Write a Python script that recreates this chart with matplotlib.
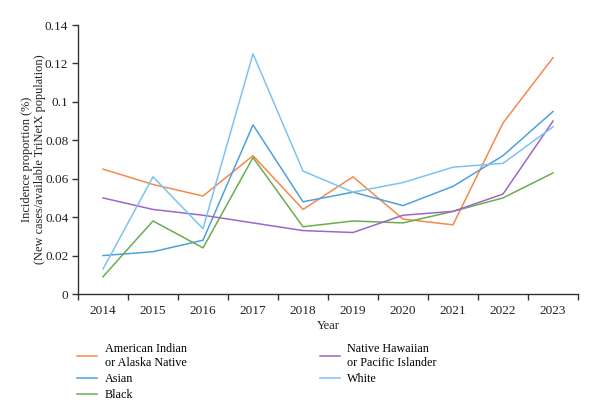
import numpy as np
from matplotlib import pyplot as plt
from matplotlib.lines import Line2D

years = ['2014', '2015', '2016', '2017', '2018', '2019', '2020', '2021', '2022', '2023']

american_indian = [0.065, 0.057, 0.051, 0.072, 0.044, 0.061, 0.039, 0.036, 0.089, 0.123]
asian = [0.020, 0.022, 0.028, 0.088, 0.048, 0.053, 0.046, 0.056, 0.072, 0.095]
black = [0.009, 0.038, 0.024, 0.071, 0.035, 0.038, 0.037, 0.043, 0.050, 0.063]
native_hawaiian = [0.050, 0.044, 0.041, 0.037, 0.033, 0.032, 0.041, 0.043, 0.052, 0.090]
white = [0.013, 0.061, 0.034, 0.125, 0.064, 0.053, 0.058, 0.066, 0.068, 0.087]

plt.rcParams['font.family'] = ['Liberation Serif', 'DejaVu Serif']

series = [
    ('American Indian\nor Alaska Native', american_indian, '#f5894a'),
    ('Asian', asian, '#4ea1dc'),
    ('Black', black, '#6aad4f'),
    ('Native Hawaiian\nor Pacific Islander', native_hawaiian, '#9a68c8'),
    ('White', white, '#7cc3ef'),
]

fig = plt.figure(figsize=(6.0, 4.19), dpi=100)
ax = fig.add_axes([78 / 600, 1 - 294 / 419, 500 / 600, 269 / 419])

x = np.arange(len(years))
for label, values, color in series:
    ax.plot(x, values, color=color, lw=1.1, label=label)

ax.set_xlim(-0.5, len(years) - 0.5)
ax.set_ylim(0, 0.14)
ax.set_yticks([0, 0.02, 0.04, 0.06, 0.08, 0.1, 0.12, 0.14])
ax.set_yticklabels(['0', '0.02', '0.04', '0.06', '0.08', '0.1', '0.12', '0.14'])
ax.set_xticks(x)
ax.set_xticklabels(years)
ax.set_xticks(np.arange(-0.5, len(years)), minor=True)
ax.tick_params(axis='x', which='major', length=0, pad=8, labelsize=9.5, colors='#222222')
ax.tick_params(axis='x', which='minor', length=4, width=1, color='#333333')
ax.tick_params(axis='y', length=4, width=1, color='#333333', labelsize=9.5, labelcolor='#222222', pad=3)

for side in ['top', 'right']:
    ax.spines[side].set_visible(False)
for side in ['left', 'bottom']:
    ax.spines[side].set_color('#333333')
    ax.spines[side].set_linewidth(1)

ax.set_xlabel('Year', fontsize=9, labelpad=2, color='#222222')
ax.set_ylabel('Incidence proportion (%)\n(New cases/available TriNetX population)',
              fontsize=8.9, labelpad=-1, color='#222222', linespacing=1.1)

handles = [Line2D([0], [0], color=c, lw=1.1) for _, _, c in series]
labels = [l for l, _, _ in series]
fig.legend(handles, labels, ncol=2, loc='upper left', bbox_to_anchor=(72 / 600, 1 - 338 / 419),
           frameon=False, fontsize=8.7, handlelength=1.7, handletextpad=0.6,
           columnspacing=11.0, labelspacing=0.35, borderaxespad=0)

fig.savefig('out.png', dpi=100)
